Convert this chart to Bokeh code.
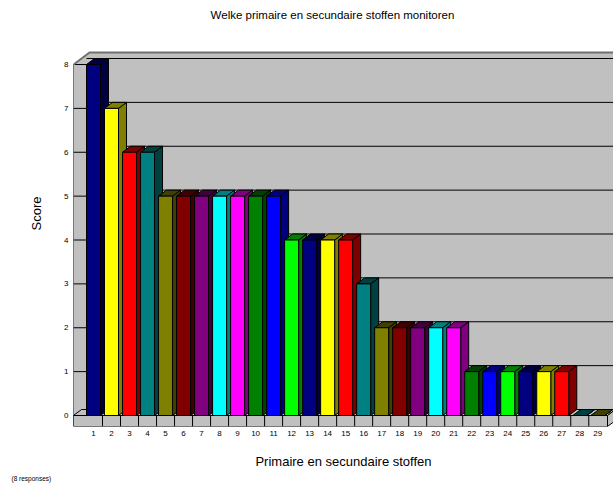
from bokeh.plotting import figure
from bokeh.models import Range1d, FixedTicker, Label, Title, LinearAxis
from bokeh.embed import file_html
from bokeh.resources import INLINE

# ---- data ----
categories = list(range(1, 30))
scores = [8, 7, 6, 6, 5, 5, 5, 5, 5, 5, 5, 4, 4, 4, 4, 3, 2, 2, 2, 2, 2, 1, 1, 1, 1, 1, 1, 0, 0]
palette = ["#000080", "#FFFF00", "#FF0000", "#008080", "#808000", "#800000",
           "#800080", "#00FFFF", "#FF00FF", "#008000", "#0000FF", "#00FF00"]
bar_colors = [palette[i % len(palette)] for i in range(len(categories))]
y_ticks = list(range(0, 9))
title_text = "Welke primaire en secundaire stoffen monitoren"
x_label = "Primaire en secundaire stoffen"
y_label = "Score"
note_text = "(8 responses)"

FONT = "Liberation Sans"


def darker(hexcol):
    r = int(hexcol[1:3], 16) // 2
    g = int(hexcol[3:5], 16) // 2
    b = int(hexcol[5:7], 16) // 2
    return "#%02X%02X%02X" % (r, g, b)


# ---- geometry (pixel scale of the oblique 3-D look) ----
PX_X = 18.01      # px per category
PX_Y = 43.875     # px per score unit
x_start = categories[0] - 20 / PX_X
x_end = categories[0] + 520 / PX_X
y_start = -11 / PX_Y
y_top = max(y_ticks)
y_end = y_top + 64 / PX_Y
ox = 8 / PX_X     # depth offset in x
oy = 6 / PX_Y     # depth offset in y
hw = 7 / PX_X     # half bar width
x_floor_end = categories[-1] + 0.5 + 0.04
label_center = (categories[0] + categories[-1]) / 2 - 0.84

p = figure(width=613, height=483,
           x_range=Range1d(x_start, x_end), y_range=Range1d(y_start, y_end),
           output_backend="svg", toolbar_location=None,
           min_border_left=73, min_border_right=0, min_border_top=0, min_border_bottom=57)
p.outline_line_color = None
p.xgrid.visible = False
p.ygrid.visible = False
p.background_fill_color = "white"
p.border_fill_color = "white"

WALL = "#C0C0C0"

# wall background (left wall + back wall + top slab)
p.patch([x_start, x_start, x_start + 2 * ox, x_end, x_end],
        [0, y_top, y_top + 2 * oy, y_top + 2 * oy, 0],
        fill_color=WALL, line_color=None)

# back-wall gridlines
first_left = categories[0] - hw
p.multi_line([[first_left, x_end] for v in y_ticks[1:]],
             [[v + oy, v + oy] for v in y_ticks[1:]],
             line_color="black", line_width=1)
# left wall ticks
p.multi_line([[x_start, first_left] for v in y_ticks],
             [[v, v] for v in y_ticks], line_color="black", line_width=1)
# top slab edges
p.line([x_start, x_start + 2 * ox, x_end], [y_top, y_top + 2 * oy, y_top + 2 * oy],
       line_color="#707070", line_width=2)
p.line([x_start, x_start], [y_start, y_top], line_color="black", line_width=1)

# floor: top face, front face, right face
p.patch([x_start, x_floor_end, x_floor_end + ox, x_start + ox],
        [0, 0, oy, oy], fill_color=WALL, line_color="black", line_width=1)
p.patch([x_start, x_floor_end, x_floor_end, x_start],
        [y_start, y_start, 0, 0], fill_color=WALL, line_color="black", line_width=1)
p.patch([x_floor_end, x_floor_end + ox, x_floor_end + ox, x_floor_end],
        [y_start, y_start + oy, oy, 0], fill_color=WALL, line_color="black", line_width=1)
p.multi_line([[c + 0.5, c + 0.5] for c in categories[:-1]],
             [[y_start, 0] for c in categories[:-1]], line_color="black", line_width=1)

# bars (side, top, front for each bar, left to right)
xs, ys, fills = [], [], []
for c, v, col in zip(categories, scores, bar_colors):
    L, R = c - hw, c + hw
    dk = darker(col)
    xs.append([R, R + ox, R + ox, R]); ys.append([0, oy, v + oy, v]); fills.append(dk)
    xs.append([L, L + ox, R + ox, R]); ys.append([v, v + oy, v + oy, v]); fills.append(dk)
    xs.append([L, R, R, L]); ys.append([0, 0, v, v]); fills.append(col)
p.patches(xs, ys, fill_color=fills, line_color="black", line_width=1)

# y axis
p.yaxis.ticker = FixedTicker(ticks=y_ticks)
p.yaxis.axis_line_color = None
p.yaxis.major_tick_line_color = None
p.yaxis.minor_tick_line_color = None
p.yaxis.major_tick_out = 0
p.yaxis.major_tick_in = 0
p.yaxis.major_label_standoff = 5
p.yaxis.major_label_text_font = FONT
p.yaxis.major_label_text_font_size = "8px"
p.yaxis.major_label_text_color = "black"
p.yaxis.axis_label = y_label
p.yaxis.axis_label_text_font = FONT
p.yaxis.axis_label_text_font_size = "13px"
p.yaxis.axis_label_text_font_style = "normal"
p.yaxis.axis_label_text_color = "black"
p.yaxis.axis_label_standoff = 17

# x axis (tick labels)
p.xaxis.ticker = FixedTicker(ticks=categories)
p.xaxis.axis_line_color = None
p.xaxis.major_tick_line_color = None
p.xaxis.minor_tick_line_color = None
p.xaxis.major_tick_out = 0
p.xaxis.major_tick_in = 0
p.xaxis.major_label_standoff = 4
p.xaxis.major_label_text_font = FONT
p.xaxis.major_label_text_font_size = "8px"
p.xaxis.major_label_text_color = "black"

# second x axis carrying only the axis title
lab_axis = LinearAxis(ticker=FixedTicker(ticks=[]),
                      bounds=(x_start, 2 * label_center - x_start),
                      axis_label=x_label, axis_line_color=None,
                      major_tick_line_color=None, minor_tick_line_color=None,
                      major_tick_out=0, major_tick_in=0, minor_tick_out=0,
                      major_label_text_font_size="0px",
                      axis_label_standoff=15,
                      axis_label_text_font=FONT, axis_label_text_font_size="13px",
                      axis_label_text_font_style="normal", axis_label_text_color="black")
p.add_layout(lab_axis, "below")

# title and note
p.add_layout(Label(x=259, y=412, x_units="screen", y_units="screen", text=title_text,
                   text_font=FONT, text_font_size="11.5px", text_color="black",
                   text_align="center", text_baseline="middle"))
p.add_layout(Title(text=note_text, align="left", offset=-62, standoff=2,
                   text_font=FONT, text_font_size="6.5px", text_font_style="normal",
                   text_color="black"), "below")

open("out.html", "w").write(file_html(p, INLINE))
